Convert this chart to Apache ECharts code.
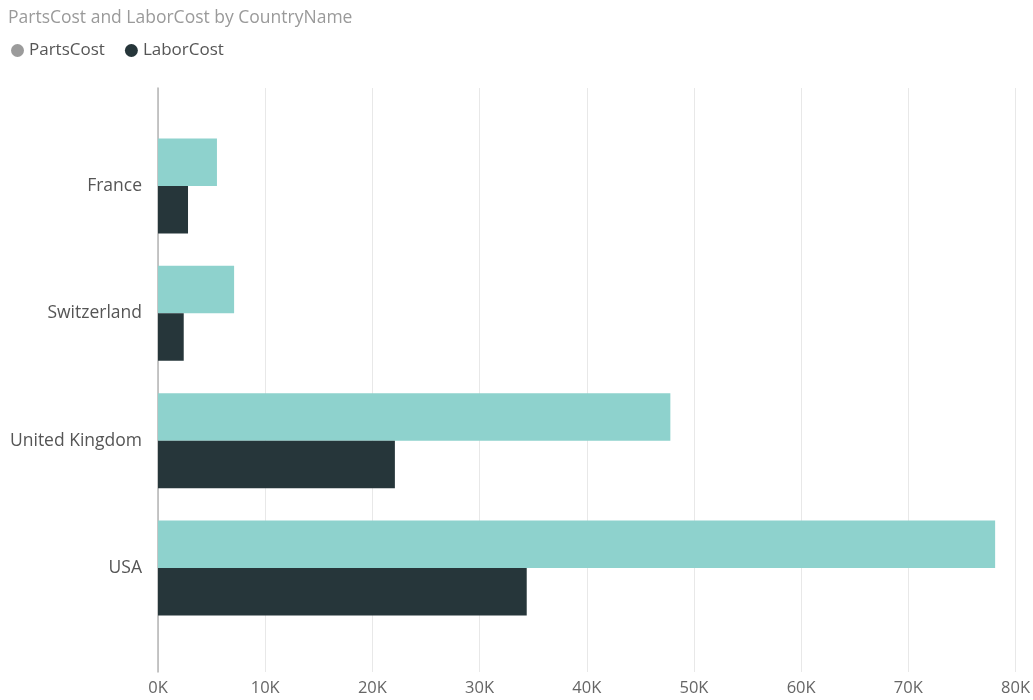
<!DOCTYPE html>
<html><head><meta charset="utf-8">
<script src="https://cdn.jsdelivr.net/npm/echarts@6/dist/echarts.min.js"></script>
<style>html,body{margin:0;padding:0;background:#fff}#c{width:1033px;height:700px}</style>
</head><body><div id="c"></div>
<script>
const categories = ['France', 'Switzerland', 'United Kingdom', 'USA'];
const partsCost = [5500, 7100, 47800, 78100];
const laborCost = [2800, 2400, 22100, 34400];
const xTicks = [0, 10000, 20000, 30000, 40000, 50000, 60000, 70000, 80000];

const chart = echarts.init(document.getElementById('c'));
const FONT = '"Open Sans", "Noto Sans", sans-serif';
chart.setOption({
  animation: false,
  title: { text: 'PartsCost and LaborCost by CountryName', left: 3, top: 4,
    textStyle: { color: '#9a9a9a', fontSize: 17.5, fontWeight: 'normal', fontFamily: FONT } },
  legend: { left: 6, top: 37, icon: 'circle', itemWidth: 13, itemHeight: 13, itemGap: 20,
    textStyle: { color: '#555', fontSize: 17, fontFamily: FONT },
    data: [{ name: 'PartsCost', itemStyle: { color: '#9b9b9b' } },
           { name: 'LaborCost', itemStyle: { color: '#26363a' } }] },
  grid: [
    { left: 158, right: 17.5, top: 88, bottom: 28 },
    { left: 158, right: 17.5, top: 122.3, bottom: 68.2 }
  ],
  xAxis: [
    { gridIndex: 0, type: 'value', min: xTicks[0], max: xTicks[xTicks.length - 1], interval: 10000,
      axisLine: { show: false }, axisTick: { show: false },
      splitLine: { lineStyle: { color: '#e8e8e8', width: 1 } },
      axisLabel: { margin: 8, color: '#666', fontSize: 16.5, fontFamily: FONT,
        formatter: v => (v / 1000) + 'K' } },
    { gridIndex: 1, type: 'value', min: xTicks[0], max: xTicks[xTicks.length - 1], show: false }
  ],
  yAxis: [
    { gridIndex: 0, type: 'value', min: 0, max: 1, axisLabel: { show: false }, axisTick: { show: false },
      splitLine: { show: false }, axisLine: { show: true, lineStyle: { color: '#b5b5b5', width: 1.5 } } },
    { gridIndex: 1, type: 'category', data: categories, inverse: true,
      axisLine: { show: false }, axisTick: { show: false },
      axisLabel: { margin: 16, color: '#555', fontSize: 17.5, fontFamily: FONT } }
  ],
  series: [
    { name: 'PartsCost', type: 'bar', xAxisIndex: 1, yAxisIndex: 1, data: partsCost,
      barWidth: 47.5, barGap: '0%', itemStyle: { color: '#8ed2cd' } },
    { name: 'LaborCost', type: 'bar', xAxisIndex: 1, yAxisIndex: 1, data: laborCost,
      barWidth: 47.5, barGap: '0%', itemStyle: { color: '#26363a' } }
  ]
});
</script></body></html>
